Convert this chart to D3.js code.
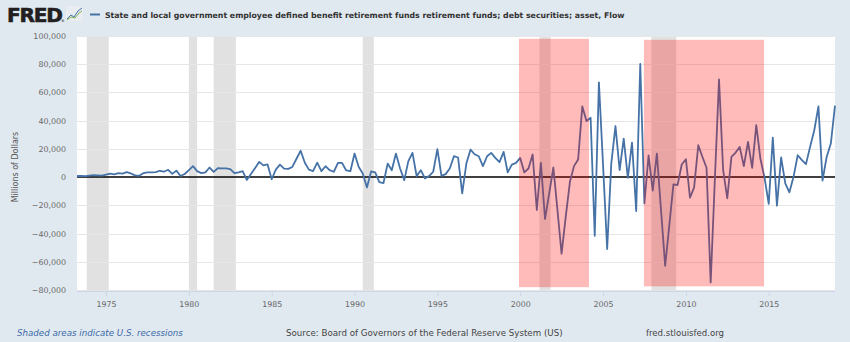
<!DOCTYPE html>
<html>
<head>
<meta charset="utf-8">
<script src="https://cdn.jsdelivr.net/npm/d3@7"></script>
<style>
  html, body { margin: 0; padding: 0; background: #e1e9f0; }
  svg { display: block; font-family: "DejaVu Sans", sans-serif; }
</style>
</head>
<body>
<div id="chart"></div>
<script>
// quarterly flow, millions of dollars, first quarter 1973-04-01
const firstQuarter = "1973-04-01";
const flowValues = [
  800, 900, 700, 1100, 1400, 1300, 1000, 1800, 2400, 2000,
  2800, 2500, 3500, 2600, 1200, 900, 2800, 3300, 3400, 3600,
  4500, 3800, 5200, 2300, 4600, 800, 2200, 5000, 7800, 4200,
  2800, 3400, 6800, 3700, 6300, 6200, 6200, 5700, 2800, 3400,
  4200, -2000, 2200, 6500, 10800, 8300, 9000, -1500, 5300, 8800,
  6000, 5800, 7200, 13000, 18700, 10200, 5300, 4300, 10200, 4200,
  7700, 5000, 3800, 10100, 10100, 4700, 4200, 16700, 7300, 2600,
  -7300, 4000, 3300, -3500, -4200, 9600, 4900, 16700, 6100, -2100,
  11300, 17200, 700, 4900, -900, 700, 3800, 19800, 900, 2100,
  6100, 14800, 13900, -11500, 9600, 19500, 16200, 14800, 7800, 14800,
  17200, 13600, 10600, 17900, 3300, 8900, 10100, 13600, 3300, 6100,
  16000, -23300, 10100, -29600, -11500, 6800, -23300, -54300, -28000, -3300,
  7800, 12500, 50100, 39700, 42100, -41600, 67200, 8200, -51000, 9600,
  36200, 4900, 27300, -500, 24500, -24000, 80200, -18600, 15300, -9600,
  16700, -23300, -62800, -33900, -5200, -5600, 8900, 12700, -14600, -7300,
  22600, 14300, 6600, -74600, -2100, 69200, 4900, -15000, 14300, 17400,
  21400, 7800, 24900, 6600, 36900, 13200, -500, -19000, 28000, -20200,
  13900, -4500, -10800, 200, 15500, 12000, 9200, 21400, 33200, 50100,
  -2400, 14300, 23800, 50600
];

const recessions = [
  ["1973-11-01", "1975-03-01"],
  ["1980-01-01", "1980-07-01"],
  ["1981-07-01", "1982-11-01"],
  ["1990-07-01", "1991-03-01"],
  ["2001-03-01", "2001-11-01"],
  ["2007-12-01", "2009-06-01"]
];

// red highlight boxes drawn over the chart
const highlightSpans = [["1999-12-05", "2004-02-24"], ["2007-06-20", "2014-09-20"]];
const highlightTops = [98000, 97300];
const highlightBottoms = [-78000, -77400];

const yTickValues = [-80000, -60000, -40000, -20000, 0, 20000, 40000, 60000, 80000, 100000];
const xTickYears = [1975, 1980, 1985, 1990, 1995, 2000, 2005, 2010, 2015];

const titleText = "State and local government employee defined benefit retirement funds retirement funds; debt securities; asset, Flow";
const yLabel = "Millions of Dollars";
const sourceText = "Source: Board of Governors of the Federal Reserve System (US)";

const W = 850, H = 342;
const plot = { left: 77, right: 835, top: 36, bottom: 291 };

const parse = d3.timeParse("%Y-%m-%d");
const start = parse(firstQuarter);
const dates = flowValues.map((v, i) => d3.timeMonth.offset(start, 3 * i));
const series = flowValues.map((v, i) => ({ date: dates[i], value: v }));

const svg = d3.select("#chart").append("svg")
    .attr("width", W)
    .attr("height", H);

svg.append("rect").attr("width", W).attr("height", H).attr("fill", "#e1e9f0");

const x = d3.scaleTime()
    .domain([dates[0], dates[dates.length - 1]])
    .range([plot.left, plot.right]);

const y = d3.scaleLinear()
    .domain([-80000, 100000])
    .range([290, 36]);

// fit a text element to a target pixel width
function fitWidth(sel, target) {
    const node = sel.node();
    const fs = parseFloat(sel.attr("font-size"));
    const w = node.getComputedTextLength();
    if (w > 0) sel.attr("font-size", (fs * target / w).toFixed(2));
}

// plot background
svg.append("rect")
    .attr("x", plot.left).attr("y", plot.top)
    .attr("width", plot.right - plot.left)
    .attr("height", plot.bottom - plot.top)
    .attr("fill", "#ffffff");

// recession shading
svg.append("g").selectAll("rect")
    .data(recessions)
    .join("rect")
    .attr("x", d => x(parse(d[0])))
    .attr("width", d => x(parse(d[1])) - x(parse(d[0])))
    .attr("y", plot.top)
    .attr("height", plot.bottom - plot.top)
    .attr("fill", "#e1e1e1");

// horizontal grid
svg.append("g").selectAll("line")
    .data(yTickValues.filter(v => v !== 0))
    .join("line")
    .attr("x1", plot.left).attr("x2", plot.right)
    .attr("y1", d => Math.round(y(d)) + 0.5)
    .attr("y2", d => Math.round(y(d)) + 0.5)
    .attr("stroke", "#e6e6e6")
    .attr("stroke-width", 1);

// y axis labels
const yAxis = svg.append("g")
    .attr("transform", `translate(${plot.left - 11},0)`)
    .call(d3.axisLeft(y).tickValues(yTickValues).tickSize(0).tickPadding(0)
        .tickFormat(d3.format(",")));
yAxis.select(".domain").remove();
yAxis.selectAll("text")
    .attr("font-size", 7.9)
    .attr("font-family", "DejaVu Sans, sans-serif")
    .attr("fill", "#666");

// x axis
const xAxis = svg.append("g")
    .attr("transform", `translate(0,${plot.bottom})`)
    .call(d3.axisBottom(x)
        .tickValues(xTickYears.map(yr => new Date(yr, 0, 1)))
        .tickSize(5).tickPadding(5)
        .tickFormat(d3.timeFormat("%Y")));
xAxis.select(".domain")
    .attr("d", `M${plot.left},0.5H${plot.right}`)
    .attr("stroke", "#ccd6eb");
xAxis.selectAll(".tick line").attr("stroke", "#ccd6eb");
xAxis.selectAll("text")
    .attr("font-size", 7.9)
    .attr("font-family", "DejaVu Sans, sans-serif")
    .attr("fill", "#666");

// zero line
svg.append("line")
    .attr("x1", plot.left).attr("x2", plot.right)
    .attr("y1", y(0)).attr("y2", y(0))
    .attr("stroke", "#000")
    .attr("stroke-width", 1.5);

// series line
const line = d3.line()
    .x(d => x(d.date))
    .y(d => y(d.value));

svg.append("path")
    .datum(series)
    .attr("fill", "none")
    .attr("stroke", "#4572a7")
    .attr("stroke-width", 1.8)
    .attr("stroke-linejoin", "round")
    .attr("d", line);

// highlight boxes
svg.append("g").selectAll("rect")
    .data(highlightSpans)
    .join("rect")
    .attr("x", d => x(parse(d[0])))
    .attr("width", d => x(parse(d[1])) - x(parse(d[0])))
    .attr("y", (d, i) => y(highlightTops[i]))
    .attr("height", (d, i) => y(highlightBottoms[i]) - y(highlightTops[i]))
    .attr("fill", "#ff0000")
    .attr("fill-opacity", 0.27);

// y label
svg.append("text")
    .attr("transform", "translate(18,167) rotate(-90)")
    .attr("text-anchor", "middle")
    .attr("font-size", 8)
    .attr("fill", "#555")
    .text(yLabel);

// FRED logo
const logo = svg.append("text")
    .attr("x", 7).attr("y", 22)
    .attr("font-family", "DejaVu Sans, sans-serif")
    .attr("font-weight", "bold")
    .attr("font-size", 21)
    .attr("letter-spacing", -1.2)
    .attr("fill", "#231f20")
    .attr("stroke", "#231f20")
    .attr("stroke-width", 0.6)
    .text("FRED");
fitWidth(logo, 55);
svg.append("text")
    .attr("x", 61).attr("y", 22)
    .attr("font-size", 3.5)
    .attr("fill", "#231f20")
    .text("®");
const icon = svg.append("g").attr("transform", "translate(66,6)");
icon.append("rect").attr("width", 17).attr("height", 15).attr("rx", 1.5).attr("fill", "#e9edf1");
icon.append("path").attr("d", "M1,13 L5,9 L8,11 L12,5 L16,2")
    .attr("fill", "none").attr("stroke", "#4572a7").attr("stroke-width", 1);
icon.append("path").attr("d", "M1,14 L5,11 L9,12 L13,7 L16,5")
    .attr("fill", "none").attr("stroke", "#7fb34f").attr("stroke-width", 1);

// legend swatch and title
svg.append("line")
    .attr("x1", 90).attr("x2", 100)
    .attr("y1", 14.5).attr("y2", 14.5)
    .attr("stroke", "#4572a7").attr("stroke-width", 2);
const title = svg.append("text")
    .attr("x", 105).attr("y", 18)
    .attr("font-weight", "bold")
    .attr("font-size", 9)
    .attr("fill", "#333")
    .text(titleText);
fitWidth(title, 520);

// footer
const note = svg.append("text")
    .attr("x", 17).attr("y", 336)
    .attr("font-style", "italic")
    .attr("font-size", 8.5)
    .attr("fill", "#3c6aa6")
    .text("Shaded areas indicate U.S. recessions");
fitWidth(note, 166);

const src = svg.append("text")
    .attr("x", 286).attr("y", 336)
    .attr("font-size", 8.5)
    .attr("fill", "#444")
    .text(sourceText);
fitWidth(src, 277);

const site = svg.append("text")
    .attr("x", 646).attr("y", 336)
    .attr("font-size", 8.5)
    .attr("fill", "#444")
    .text("fred.stlouisfed.org");
fitWidth(site, 78);
</script>
</body>
</html>
